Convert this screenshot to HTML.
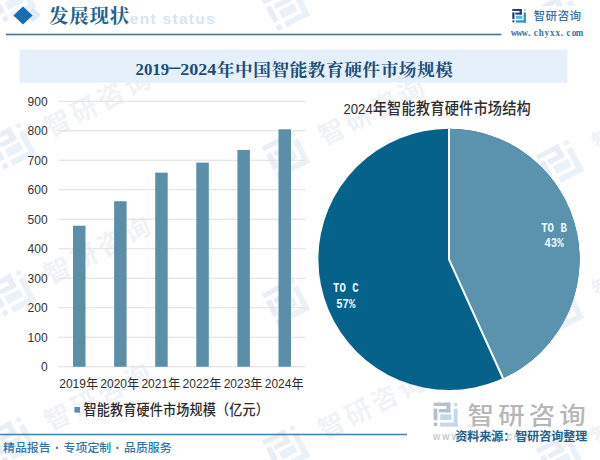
<!DOCTYPE html>
<html lang="zh-CN">
<head>
<meta charset="utf-8">
<title>发展现状 - 2019-2024年中国智能教育硬件市场规模</title>
<style>
html,body{margin:0;padding:0;background:#fff;width:600px;height:460px;overflow:hidden}
svg{display:block;position:absolute;left:0;top:0}
text{font-family:"Liberation Sans","Noto Sans CJK SC",sans-serif}
text.sa{font-family:"Liberation Sans","Noto Sans CJK SC",sans-serif}
text.se{font-family:"Liberation Serif","Noto Serif CJK SC",serif}
text.mo{font-family:"Liberation Mono","Noto Sans CJK SC",monospace}
</style>
</head>
<body>
<svg width="600" height="460" viewBox="0 0 600 460">
<rect width="600" height="460" fill="#ffffff"/>
<g transform="translate(12.0 -1.0) rotate(-27)" aria-hidden="true">
<g transform="translate(-18 -18) scale(1.5000)" opacity="1" ><rect x="0" y="0" width="16.8" height="3.4" fill="#e9edf5"/><rect x="12.8" y="0" width="4.0" height="9.8" fill="#e9edf5"/><rect x="5.2" y="6.4" width="11.6" height="3.4" fill="#e9edf5"/><rect x="0" y="6.0" width="3.8" height="11.6" fill="#e9edf5"/><rect x="0.2" y="20.0" width="3.5" height="3.5" fill="#e9edf5"/><rect x="20.0" y="6.0" width="4.0" height="18.0" fill="#eaf1f9"/><rect x="6.6" y="20.0" width="17.4" height="4.0" fill="#eaf1f9"/><rect x="6.6" y="11.8" width="11.2" height="5.6" fill="#eaf1f9"/><rect x="20.4" y="0.4" width="3.2" height="3.0" fill="#eaf1f9" opacity="1.0"/></g>
<g fill="#f0f2f6"><text x="38" y="9.8" font-size="26" font-weight="bold" class="sa" letter-spacing="3.7">智研咨询</text></g>
</g>
<g transform="translate(286.0 7.5) rotate(-27)" aria-hidden="true">
<g transform="translate(-18 -18) scale(1.5000)" opacity="1" ><rect x="0" y="0" width="16.8" height="3.4" fill="#e9edf5"/><rect x="12.8" y="0" width="4.0" height="9.8" fill="#e9edf5"/><rect x="5.2" y="6.4" width="11.6" height="3.4" fill="#e9edf5"/><rect x="0" y="6.0" width="3.8" height="11.6" fill="#e9edf5"/><rect x="0.2" y="20.0" width="3.5" height="3.5" fill="#e9edf5"/><rect x="20.0" y="6.0" width="4.0" height="18.0" fill="#eaf1f9"/><rect x="6.6" y="20.0" width="17.4" height="4.0" fill="#eaf1f9"/><rect x="6.6" y="11.8" width="11.2" height="5.6" fill="#eaf1f9"/><rect x="20.4" y="0.4" width="3.2" height="3.0" fill="#eaf1f9" opacity="1.0"/></g>
<g fill="#f0f2f6"><text x="38" y="9.8" font-size="26" font-weight="bold" class="sa" letter-spacing="3.7">智研咨询</text></g>
</g>
<g transform="translate(560.0 16.0) rotate(-27)" aria-hidden="true">
<g transform="translate(-18 -18) scale(1.5000)" opacity="1" ><rect x="0" y="0" width="16.8" height="3.4" fill="#e9edf5"/><rect x="12.8" y="0" width="4.0" height="9.8" fill="#e9edf5"/><rect x="5.2" y="6.4" width="11.6" height="3.4" fill="#e9edf5"/><rect x="0" y="6.0" width="3.8" height="11.6" fill="#e9edf5"/><rect x="0.2" y="20.0" width="3.5" height="3.5" fill="#e9edf5"/><rect x="20.0" y="6.0" width="4.0" height="18.0" fill="#eaf1f9"/><rect x="6.6" y="20.0" width="17.4" height="4.0" fill="#eaf1f9"/><rect x="6.6" y="11.8" width="11.2" height="5.6" fill="#eaf1f9"/><rect x="20.4" y="0.4" width="3.2" height="3.0" fill="#eaf1f9" opacity="1.0"/></g>
<g fill="#f0f2f6"><text x="38" y="9.8" font-size="26" font-weight="bold" class="sa" letter-spacing="3.7">智研咨询</text></g>
</g>
<g transform="translate(12.0 146.0) rotate(-27)" aria-hidden="true">
<g transform="translate(-18 -18) scale(1.5000)" opacity="1" ><rect x="0" y="0" width="16.8" height="3.4" fill="#e9edf5"/><rect x="12.8" y="0" width="4.0" height="9.8" fill="#e9edf5"/><rect x="5.2" y="6.4" width="11.6" height="3.4" fill="#e9edf5"/><rect x="0" y="6.0" width="3.8" height="11.6" fill="#e9edf5"/><rect x="0.2" y="20.0" width="3.5" height="3.5" fill="#e9edf5"/><rect x="20.0" y="6.0" width="4.0" height="18.0" fill="#eaf1f9"/><rect x="6.6" y="20.0" width="17.4" height="4.0" fill="#eaf1f9"/><rect x="6.6" y="11.8" width="11.2" height="5.6" fill="#eaf1f9"/><rect x="20.4" y="0.4" width="3.2" height="3.0" fill="#eaf1f9" opacity="1.0"/></g>
<g fill="#f0f2f6"><text x="38" y="9.8" font-size="26" font-weight="bold" class="sa" letter-spacing="3.7">智研咨询</text></g>
</g>
<g transform="translate(286.0 154.5) rotate(-27)" aria-hidden="true">
<g transform="translate(-18 -18) scale(1.5000)" opacity="1" ><rect x="0" y="0" width="16.8" height="3.4" fill="#e9edf5"/><rect x="12.8" y="0" width="4.0" height="9.8" fill="#e9edf5"/><rect x="5.2" y="6.4" width="11.6" height="3.4" fill="#e9edf5"/><rect x="0" y="6.0" width="3.8" height="11.6" fill="#e9edf5"/><rect x="0.2" y="20.0" width="3.5" height="3.5" fill="#e9edf5"/><rect x="20.0" y="6.0" width="4.0" height="18.0" fill="#eaf1f9"/><rect x="6.6" y="20.0" width="17.4" height="4.0" fill="#eaf1f9"/><rect x="6.6" y="11.8" width="11.2" height="5.6" fill="#eaf1f9"/><rect x="20.4" y="0.4" width="3.2" height="3.0" fill="#eaf1f9" opacity="1.0"/></g>
<g fill="#f0f2f6"><text x="38" y="9.8" font-size="26" font-weight="bold" class="sa" letter-spacing="3.7">智研咨询</text></g>
</g>
<g transform="translate(560.0 163.0) rotate(-27)" aria-hidden="true">
<g transform="translate(-18 -18) scale(1.5000)" opacity="1" ><rect x="0" y="0" width="16.8" height="3.4" fill="#e9edf5"/><rect x="12.8" y="0" width="4.0" height="9.8" fill="#e9edf5"/><rect x="5.2" y="6.4" width="11.6" height="3.4" fill="#e9edf5"/><rect x="0" y="6.0" width="3.8" height="11.6" fill="#e9edf5"/><rect x="0.2" y="20.0" width="3.5" height="3.5" fill="#e9edf5"/><rect x="20.0" y="6.0" width="4.0" height="18.0" fill="#eaf1f9"/><rect x="6.6" y="20.0" width="17.4" height="4.0" fill="#eaf1f9"/><rect x="6.6" y="11.8" width="11.2" height="5.6" fill="#eaf1f9"/><rect x="20.4" y="0.4" width="3.2" height="3.0" fill="#eaf1f9" opacity="1.0"/></g>
<g fill="#f0f2f6"><text x="38" y="9.8" font-size="26" font-weight="bold" class="sa" letter-spacing="3.7">智研咨询</text></g>
</g>
<g transform="translate(12.0 293.0) rotate(-27)" aria-hidden="true">
<g transform="translate(-18 -18) scale(1.5000)" opacity="1" ><rect x="0" y="0" width="16.8" height="3.4" fill="#e9edf5"/><rect x="12.8" y="0" width="4.0" height="9.8" fill="#e9edf5"/><rect x="5.2" y="6.4" width="11.6" height="3.4" fill="#e9edf5"/><rect x="0" y="6.0" width="3.8" height="11.6" fill="#e9edf5"/><rect x="0.2" y="20.0" width="3.5" height="3.5" fill="#e9edf5"/><rect x="20.0" y="6.0" width="4.0" height="18.0" fill="#eaf1f9"/><rect x="6.6" y="20.0" width="17.4" height="4.0" fill="#eaf1f9"/><rect x="6.6" y="11.8" width="11.2" height="5.6" fill="#eaf1f9"/><rect x="20.4" y="0.4" width="3.2" height="3.0" fill="#eaf1f9" opacity="1.0"/></g>
<g fill="#f0f2f6"><text x="38" y="9.8" font-size="26" font-weight="bold" class="sa" letter-spacing="3.7">智研咨询</text></g>
</g>
<g transform="translate(286.0 301.5) rotate(-27)" aria-hidden="true">
<g transform="translate(-18 -18) scale(1.5000)" opacity="1" ><rect x="0" y="0" width="16.8" height="3.4" fill="#e9edf5"/><rect x="12.8" y="0" width="4.0" height="9.8" fill="#e9edf5"/><rect x="5.2" y="6.4" width="11.6" height="3.4" fill="#e9edf5"/><rect x="0" y="6.0" width="3.8" height="11.6" fill="#e9edf5"/><rect x="0.2" y="20.0" width="3.5" height="3.5" fill="#e9edf5"/><rect x="20.0" y="6.0" width="4.0" height="18.0" fill="#eaf1f9"/><rect x="6.6" y="20.0" width="17.4" height="4.0" fill="#eaf1f9"/><rect x="6.6" y="11.8" width="11.2" height="5.6" fill="#eaf1f9"/><rect x="20.4" y="0.4" width="3.2" height="3.0" fill="#eaf1f9" opacity="1.0"/></g>
<g fill="#f0f2f6"><text x="38" y="9.8" font-size="26" font-weight="bold" class="sa" letter-spacing="3.7">智研咨询</text></g>
</g>
<g transform="translate(560.0 310.0) rotate(-27)" aria-hidden="true">
<g transform="translate(-18 -18) scale(1.5000)" opacity="1" ><rect x="0" y="0" width="16.8" height="3.4" fill="#e9edf5"/><rect x="12.8" y="0" width="4.0" height="9.8" fill="#e9edf5"/><rect x="5.2" y="6.4" width="11.6" height="3.4" fill="#e9edf5"/><rect x="0" y="6.0" width="3.8" height="11.6" fill="#e9edf5"/><rect x="0.2" y="20.0" width="3.5" height="3.5" fill="#e9edf5"/><rect x="20.0" y="6.0" width="4.0" height="18.0" fill="#eaf1f9"/><rect x="6.6" y="20.0" width="17.4" height="4.0" fill="#eaf1f9"/><rect x="6.6" y="11.8" width="11.2" height="5.6" fill="#eaf1f9"/><rect x="20.4" y="0.4" width="3.2" height="3.0" fill="#eaf1f9" opacity="1.0"/></g>
<g fill="#f0f2f6"><text x="38" y="9.8" font-size="26" font-weight="bold" class="sa" letter-spacing="3.7">智研咨询</text></g>
</g>
<g transform="translate(12.0 440.0) rotate(-27)" aria-hidden="true">
<g transform="translate(-18 -18) scale(1.5000)" opacity="1" ><rect x="0" y="0" width="16.8" height="3.4" fill="#e9edf5"/><rect x="12.8" y="0" width="4.0" height="9.8" fill="#e9edf5"/><rect x="5.2" y="6.4" width="11.6" height="3.4" fill="#e9edf5"/><rect x="0" y="6.0" width="3.8" height="11.6" fill="#e9edf5"/><rect x="0.2" y="20.0" width="3.5" height="3.5" fill="#e9edf5"/><rect x="20.0" y="6.0" width="4.0" height="18.0" fill="#eaf1f9"/><rect x="6.6" y="20.0" width="17.4" height="4.0" fill="#eaf1f9"/><rect x="6.6" y="11.8" width="11.2" height="5.6" fill="#eaf1f9"/><rect x="20.4" y="0.4" width="3.2" height="3.0" fill="#eaf1f9" opacity="1.0"/></g>
<g fill="#f0f2f6"><text x="38" y="9.8" font-size="26" font-weight="bold" class="sa" letter-spacing="3.7">智研咨询</text></g>
</g>
<g transform="translate(286.0 448.5) rotate(-27)" aria-hidden="true">
<g transform="translate(-18 -18) scale(1.5000)" opacity="1" ><rect x="0" y="0" width="16.8" height="3.4" fill="#e9edf5"/><rect x="12.8" y="0" width="4.0" height="9.8" fill="#e9edf5"/><rect x="5.2" y="6.4" width="11.6" height="3.4" fill="#e9edf5"/><rect x="0" y="6.0" width="3.8" height="11.6" fill="#e9edf5"/><rect x="0.2" y="20.0" width="3.5" height="3.5" fill="#e9edf5"/><rect x="20.0" y="6.0" width="4.0" height="18.0" fill="#eaf1f9"/><rect x="6.6" y="20.0" width="17.4" height="4.0" fill="#eaf1f9"/><rect x="6.6" y="11.8" width="11.2" height="5.6" fill="#eaf1f9"/><rect x="20.4" y="0.4" width="3.2" height="3.0" fill="#eaf1f9" opacity="1.0"/></g>
<g fill="#f0f2f6"><text x="38" y="9.8" font-size="26" font-weight="bold" class="sa" letter-spacing="3.7">智研咨询</text></g>
</g>
<g transform="translate(560.0 457.0) rotate(-27)" aria-hidden="true">
<g transform="translate(-18 -18) scale(1.5000)" opacity="1" ><rect x="0" y="0" width="16.8" height="3.4" fill="#e9edf5"/><rect x="12.8" y="0" width="4.0" height="9.8" fill="#e9edf5"/><rect x="5.2" y="6.4" width="11.6" height="3.4" fill="#e9edf5"/><rect x="0" y="6.0" width="3.8" height="11.6" fill="#e9edf5"/><rect x="0.2" y="20.0" width="3.5" height="3.5" fill="#e9edf5"/><rect x="20.0" y="6.0" width="4.0" height="18.0" fill="#eaf1f9"/><rect x="6.6" y="20.0" width="17.4" height="4.0" fill="#eaf1f9"/><rect x="6.6" y="11.8" width="11.2" height="5.6" fill="#eaf1f9"/><rect x="20.4" y="0.4" width="3.2" height="3.0" fill="#eaf1f9" opacity="1.0"/></g>
<g fill="#f0f2f6"><text x="38" y="9.8" font-size="26" font-weight="bold" class="sa" letter-spacing="3.7">智研咨询</text></g>
</g>
<polygon points="33,7.5 41,14.8 33,22 25,14.8" fill="#e0eaf4"/>
<polygon points="23,6.5 32.6,15.5 23,24.6 13.4,15.5" fill="#1a6cb2"/>
<g fill="#d8e4f0" role="img" aria-label="Development status"><title>Development status</title><text x="129.79" y="24.20" font-size="15.5" font-weight="bold" class="sa" letter-spacing="1.3" textLength="86.21" lengthAdjust="spacing" xml:space="preserve">ent status</text></g>
<g fill="#22628d" role="img" aria-label="发展现状"><title>发展现状</title><text x="49" y="23.1" font-size="19.4" font-weight="bold" class="se" letter-spacing="0.9">发展现状</text></g>
<rect x="6" y="33.7" width="495.5" height="1.6" fill="#4a7391"/>
<rect x="507" y="6" width="80" height="34" fill="#ffffff"/>
<g transform="translate(512.3 9) scale(0.5667)" opacity="1" ><rect x="0" y="0" width="16.8" height="3.4" fill="#1f3b70"/><rect x="12.8" y="0" width="4.0" height="9.8" fill="#1f3b70"/><rect x="5.2" y="6.4" width="11.6" height="3.4" fill="#1f3b70"/><rect x="0" y="6.0" width="3.8" height="11.6" fill="#1f3b70"/><rect x="0.2" y="20.0" width="3.5" height="3.5" fill="#1f3b70"/><rect x="20.0" y="6.0" width="4.0" height="18.0" fill="#2f8fca"/><rect x="6.6" y="20.0" width="17.4" height="4.0" fill="#2f8fca"/><rect x="6.6" y="11.8" width="11.2" height="5.6" fill="#55b7e4"/><rect x="20.4" y="0.4" width="3.2" height="3.0" fill="#2f8fca" opacity="0.45"/></g>
<g fill="#3a6fa8" role="img" aria-label="智研咨询"><title>智研咨询</title><text x="533.6" y="20.2" font-size="11.6" font-weight="500" class="sa" letter-spacing="0.4">智研咨询</text></g>
<g fill="#3a74a0" role="img" aria-label="www.chyxx.com"><title>www.chyxx.com</title><text transform="translate(511.20 36.10) scale(0.93 1.0)" x="-0.60 5.28 11.17 17.97 24.29 29.62 35.78 41.66 47.54 53.26 59.58 65.19 69.44" y="0" font-size="9.8" font-weight="bold" class="se">www.chyxx.com</text></g>
<rect x="19.5" y="49.6" width="548" height="33.2" fill="#e5f0fa"/>
<g role="img" aria-label="2019-2024年中国智能教育硬件市场规模">
<g fill="#1b4d79"><text transform="translate(135.50 75.00) scale(0.977 1.0)" font-size="17.2" font-weight="bold" class="se" textLength="34.40" lengthAdjust="spacing" xml:space="preserve">2019</text></g>
<rect x="169" y="67.5" width="11.6" height="1.5" fill="#1b4d79"/>
<g fill="#1b4d79"><text transform="translate(180.20 75.00) scale(1.052 1.0)" font-size="17.2" font-weight="bold" class="se" textLength="34.40" lengthAdjust="spacing" xml:space="preserve">2024</text></g>
<g fill="#1b4d79"><text x="216.9" y="75.55" font-size="17.6" font-weight="bold" class="se" letter-spacing="0.6">年中国智能教育硬件市场规模</text></g>
</g>
<rect x="58.5" y="366.25" width="247" height="1" fill="#dedede"/>
<g fill="#333333" role="img" aria-label="0"><title>0</title><text x="40.93" y="371.05" font-size="12" font-weight="normal" class="sa" xml:space="preserve">0</text></g>
<rect x="58.5" y="336.75" width="247" height="1" fill="#dedede"/>
<g fill="#333333" role="img" aria-label="100"><title>100</title><text x="27.58" y="341.55" font-size="12" font-weight="normal" class="sa" textLength="20.02" lengthAdjust="spacing" xml:space="preserve">100</text></g>
<rect x="58.5" y="307.25" width="247" height="1" fill="#dedede"/>
<g fill="#333333" role="img" aria-label="200"><title>200</title><text x="27.58" y="312.05" font-size="12" font-weight="normal" class="sa" textLength="20.02" lengthAdjust="spacing" xml:space="preserve">200</text></g>
<rect x="58.5" y="277.75" width="247" height="1" fill="#dedede"/>
<g fill="#333333" role="img" aria-label="300"><title>300</title><text x="27.58" y="282.55" font-size="12" font-weight="normal" class="sa" textLength="20.02" lengthAdjust="spacing" xml:space="preserve">300</text></g>
<rect x="58.5" y="248.25" width="247" height="1" fill="#dedede"/>
<g fill="#333333" role="img" aria-label="400"><title>400</title><text x="27.58" y="253.05" font-size="12" font-weight="normal" class="sa" textLength="20.02" lengthAdjust="spacing" xml:space="preserve">400</text></g>
<rect x="58.5" y="218.75" width="247" height="1" fill="#dedede"/>
<g fill="#333333" role="img" aria-label="500"><title>500</title><text x="27.58" y="223.55" font-size="12" font-weight="normal" class="sa" textLength="20.02" lengthAdjust="spacing" xml:space="preserve">500</text></g>
<rect x="58.5" y="189.25" width="247" height="1" fill="#dedede"/>
<g fill="#333333" role="img" aria-label="600"><title>600</title><text x="27.58" y="194.05" font-size="12" font-weight="normal" class="sa" textLength="20.02" lengthAdjust="spacing" xml:space="preserve">600</text></g>
<rect x="58.5" y="159.75" width="247" height="1" fill="#dedede"/>
<g fill="#333333" role="img" aria-label="700"><title>700</title><text x="27.58" y="164.55" font-size="12" font-weight="normal" class="sa" textLength="20.02" lengthAdjust="spacing" xml:space="preserve">700</text></g>
<rect x="58.5" y="130.25" width="247" height="1" fill="#dedede"/>
<g fill="#333333" role="img" aria-label="800"><title>800</title><text x="27.58" y="135.05" font-size="12" font-weight="normal" class="sa" textLength="20.02" lengthAdjust="spacing" xml:space="preserve">800</text></g>
<rect x="58.5" y="100.75" width="247" height="1" fill="#dedede"/>
<g fill="#333333" role="img" aria-label="900"><title>900</title><text x="27.58" y="105.55" font-size="12" font-weight="normal" class="sa" textLength="20.02" lengthAdjust="spacing" xml:space="preserve">900</text></g>
<rect x="73.00" y="225.74" width="12.5" height="141.01" fill="#5b8fa9"/>
<g fill="#2e2e2e" role="img" aria-label="2019年"><title>2019年</title><text x="59.25" y="387.80" font-size="12" font-weight="normal" class="sa" textLength="26.70" lengthAdjust="spacing" xml:space="preserve">2019</text><text transform="translate(85.95 387.80) scale(1 1.07)" font-size="12.1" font-weight="normal" class="sa">年</text></g>
<rect x="114.10" y="201.25" width="12.5" height="165.50" fill="#5b8fa9"/>
<g fill="#2e2e2e" role="img" aria-label="2020年"><title>2020年</title><text x="100.35" y="387.80" font-size="12" font-weight="normal" class="sa" textLength="26.70" lengthAdjust="spacing" xml:space="preserve">2020</text><text transform="translate(127.05 387.80) scale(1 1.07)" font-size="12.1" font-weight="normal" class="sa">年</text></g>
<rect x="155.20" y="172.64" width="12.5" height="194.11" fill="#5b8fa9"/>
<g fill="#2e2e2e" role="img" aria-label="2021年"><title>2021年</title><text x="141.45" y="387.80" font-size="12" font-weight="normal" class="sa" textLength="26.70" lengthAdjust="spacing" xml:space="preserve">2021</text><text transform="translate(168.15 387.80) scale(1 1.07)" font-size="12.1" font-weight="normal" class="sa">年</text></g>
<rect x="196.30" y="162.61" width="12.5" height="204.14" fill="#5b8fa9"/>
<g fill="#2e2e2e" role="img" aria-label="2022年"><title>2022年</title><text x="182.55" y="387.80" font-size="12" font-weight="normal" class="sa" textLength="26.70" lengthAdjust="spacing" xml:space="preserve">2022</text><text transform="translate(209.25 387.80) scale(1 1.07)" font-size="12.1" font-weight="normal" class="sa">年</text></g>
<rect x="237.40" y="149.93" width="12.5" height="216.82" fill="#5b8fa9"/>
<g fill="#2e2e2e" role="img" aria-label="2023年"><title>2023年</title><text x="223.65" y="387.80" font-size="12" font-weight="normal" class="sa" textLength="26.70" lengthAdjust="spacing" xml:space="preserve">2023</text><text transform="translate(250.35 387.80) scale(1 1.07)" font-size="12.1" font-weight="normal" class="sa">年</text></g>
<rect x="278.50" y="129.27" width="12.5" height="237.48" fill="#5b8fa9"/>
<g fill="#2e2e2e" role="img" aria-label="2024年"><title>2024年</title><text x="264.75" y="387.80" font-size="12" font-weight="normal" class="sa" textLength="26.70" lengthAdjust="spacing" xml:space="preserve">2024</text><text transform="translate(291.45 387.80) scale(1 1.07)" font-size="12.1" font-weight="normal" class="sa">年</text></g>
<rect x="74.5" y="407" width="5.6" height="5.6" fill="#5b8fa9"/>
<g fill="#2b2b2b" role="img" aria-label="智能教育硬件市场规模（亿元）"><title>智能教育硬件市场规模（亿元）</title><text transform="translate(83.50 414.90) scale(1 1.1)" font-size="13.1" font-weight="500" class="sa" letter-spacing="0.15">智能教育硬件市场规模（亿元）</text></g>
<circle cx="449.0" cy="259.3" r="130.6" fill="#05638b"/>
<path d="M449.0 259.3L449.0 128.70000000000002A130.6 130.6 0 0 1 502.95 378.24Z" fill="#5b92ae"/>
<path d="M449.0 128.70000000000002L449.0 259.3L502.95 378.24" fill="none" stroke="#ffffff" stroke-width="2" stroke-linejoin="round"/>
<g fill="#2e2e2e" role="img" aria-label="2024年智能教育硬件市场结构"><title>2024年智能教育硬件市场结构</title><text transform="translate(343.50 113.60) scale(0.938 1.047)" font-size="14" font-weight="normal" class="sa" textLength="31.14" lengthAdjust="spacing" xml:space="preserve">2024</text><text transform="translate(372.71 113.60) scale(1 1.09)" font-size="14.25" font-weight="500" class="sa" letter-spacing="0.15">年智能教育硬件市场结构</text></g>
<g fill="#f2fbff" role="img" aria-label="TO C"><title>TO C</title><text transform="translate(333.03 291.80) scale(0.8 1.0)" font-size="13.3" font-weight="bold" class="mo" textLength="31.93" lengthAdjust="spacing" xml:space="preserve">TO C</text></g>
<g fill="#f2fbff" role="img" aria-label="57%"><title>57%</title><text transform="translate(336.22 307.50) scale(0.8 1.0)" font-size="13.3" font-weight="bold" class="mo" textLength="23.94" lengthAdjust="spacing" xml:space="preserve">57%</text></g>
<g fill="#f2fbff" role="img" aria-label="TO B"><title>TO B</title><text transform="translate(541.23 231.60) scale(0.8 1.0)" font-size="13.3" font-weight="bold" class="mo" textLength="31.93" lengthAdjust="spacing" xml:space="preserve">TO B</text></g>
<g fill="#f2fbff" role="img" aria-label="43%"><title>43%</title><text transform="translate(544.42 247.40) scale(0.8 1.0)" font-size="13.3" font-weight="bold" class="mo" textLength="23.94" lengthAdjust="spacing" xml:space="preserve">43%</text></g>
<rect x="0" y="433.7" width="407" height="1.6" fill="#4a86b4"/>
<g role="img" aria-label="精品报告 · 专项定制 · 品质服务">
<g fill="#3575a6"><text x="3" y="451.9" font-size="11.9" font-weight="500" class="sa">精品报告</text></g>
<circle cx="57.0" cy="447.9" r="1.15" fill="#3575a6"/>
<g fill="#3575a6"><text x="63.6" y="451.9" font-size="11.9" font-weight="500" class="sa">专项定制</text></g>
<circle cx="117.4" cy="447.9" r="1.15" fill="#3575a6"/>
<g fill="#3575a6"><text x="124" y="451.9" font-size="11.9" font-weight="500" class="sa">品质服务</text></g>
</g>
<g transform="translate(433.6 402.6) scale(1.0000)" opacity="1" ><rect x="0" y="0" width="16.8" height="3.4" fill="#b3c0d3"/><rect x="12.8" y="0" width="4.0" height="9.8" fill="#b3c0d3"/><rect x="5.2" y="6.4" width="11.6" height="3.4" fill="#b3c0d3"/><rect x="0" y="6.0" width="3.8" height="11.6" fill="#b3c0d3"/><rect x="0.2" y="20.0" width="3.5" height="3.5" fill="#b3c0d3"/><rect x="20.0" y="6.0" width="4.0" height="18.0" fill="#c3d7ea"/><rect x="6.6" y="20.0" width="17.4" height="4.0" fill="#c3d7ea"/><rect x="6.6" y="11.8" width="11.2" height="5.6" fill="#c3d7ea"/><rect x="20.4" y="0.4" width="3.2" height="3.0" fill="#c3d7ea" opacity="1.0"/></g>
<g fill="#b7b7b7" role="img" aria-label="智研咨询"><title>智研咨询</title><text transform="translate(467.60 424.30) scale(1.09 1)" font-size="24.3" font-weight="500" class="sa" letter-spacing="3.76">智研咨询</text></g>
<g fill="#b8b8b8" role="img" aria-label="www.chyxx.com"><title>www.chyxx.com</title><text x="433.00" y="440.40" font-size="10" font-weight="normal" class="sa" letter-spacing="2.1" textLength="98.97" lengthAdjust="spacing" xml:space="preserve">www.chyxx.com</text></g>
<g fill="#22618f" role="img" aria-label="资料来源：智研咨询整理"><title>资料来源：智研咨询整理</title><text x="455.2" y="440.7" font-size="12" font-weight="bold" class="sa">资料来源：智研咨询整理</text></g>
</svg>
</body>
</html>
